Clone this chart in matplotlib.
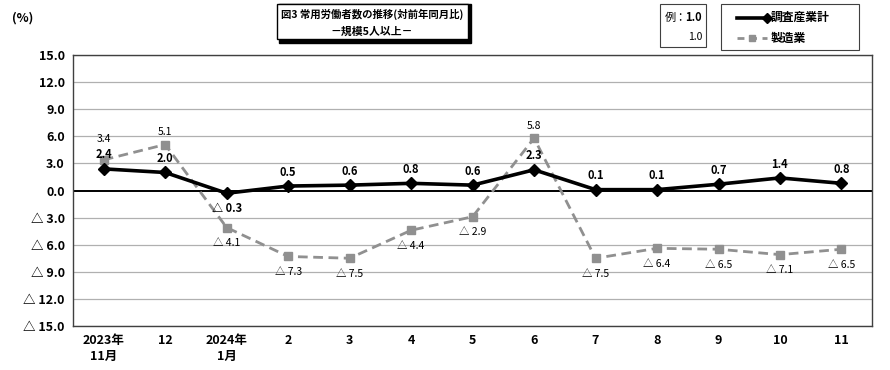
import matplotlib.pyplot as plt
from matplotlib.patches import Rectangle

plt.rcParams['font.family'] = ['Noto Sans CJK JP', 'DejaVu Sans']

months = ['2023年\n11月', '12', '2024年\n1月', '2', '3', '4', '5', '6', '7', '8', '9', '10', '11']
total = [2.4, 2.0, -0.3, 0.5, 0.6, 0.8, 0.6, 2.3, 0.1, 0.1, 0.7, 1.4, 0.8]
manuf = [3.4, 5.1, -4.1, -7.3, -7.5, -4.4, -2.9, 5.8, -7.5, -6.4, -6.5, -7.1, -6.5]
yticks = [15, 12, 9, 6, 3, 0, -3, -6, -9, -12, -15]


def fmt(v):
    if v < 0:
        return '△ %.1f' % abs(v)
    return '%.1f' % v


fig = plt.figure(figsize=(8.9, 3.7), dpi=100)
ax = fig.add_axes([0.082, 0.119, 0.898, 0.732])

x = list(range(len(months)))
for t in yticks:
    if t != 0:
        ax.axhline(t, color='#b0b0b0', lw=0.9, zorder=0)
ax.axhline(0, color='black', lw=1.4, zorder=1)

ax.plot(x, manuf, color='#909090', lw=2.0, ls=(0, (3.5, 2)), marker='s', ms=6,
        markerfacecolor='#909090', markeredgecolor='#909090', zorder=2)
ax.plot(x, total, color='black', lw=2.6, marker='D', ms=6, zorder=3)

# data labels
for i, v in enumerate(total):
    if v < 0:
        ax.annotate(fmt(v), (i, v), xytext=(0, -11), textcoords='offset points',
                    ha='center', va='center', fontsize=8, fontweight='bold')
    else:
        ax.annotate(fmt(v), (i, v), xytext=(0, 10), textcoords='offset points',
                    ha='center', va='center', fontsize=8, fontweight='bold')
for i, v in enumerate(manuf):
    if v < 0:
        ax.annotate(fmt(v), (i, v), xytext=(0, -11), textcoords='offset points',
                    ha='center', va='center', fontsize=7.5)
    else:
        dy = 9
        if i == 0:
            dy = 15
        ax.annotate(fmt(v), (i, v), xytext=(0, dy), textcoords='offset points',
                    ha='center', va='center', fontsize=7.5)

ax.set_xlim(-0.5, len(months) - 0.5)
ax.set_ylim(-15, 15)
ax.set_yticks(yticks)
ax.set_yticklabels([fmt(t) for t in yticks], fontsize=9, fontweight='bold')
ax.set_xticks(x)
ax.set_xticklabels(months, fontsize=9, fontweight='bold', va='top', linespacing=1.3)
ax.tick_params(length=0, pad=6)
for s in ax.spines.values():
    s.set_color('#404040')
    s.set_linewidth(1.0)

fig.text(0.013, 0.95, '(%)', fontsize=9, fontweight='bold', ha='left', va='center')

# title box with shadow
fig.patches.append(Rectangle((0.314, 0.885), 0.215, 0.103, transform=fig.transFigure,
                             facecolor='black', edgecolor='black', zorder=1))
fig.patches.append(Rectangle((0.311, 0.895), 0.215, 0.095, transform=fig.transFigure,
                             facecolor='white', edgecolor='black', lw=1.0, zorder=2))
fig.text(0.418, 0.960, '図3 常用労働者数の推移(対前年同月比)', fontsize=7.5, fontweight='bold',
         ha='center', va='center', zorder=3)
fig.text(0.418, 0.915, '－規模5人以上－', fontsize=7.8, fontweight='bold',
         ha='center', va='center', zorder=3)

# sample box
fig.patches.append(Rectangle((0.742, 0.872), 0.051, 0.116, transform=fig.transFigure,
                             facecolor='white', edgecolor='#404040', lw=0.8))
fig.text(0.747, 0.952, '例：', fontsize=8, ha='left', va='center')
fig.text(0.789, 0.952, '1.0', fontsize=8, fontweight='bold', ha='right', va='center')
fig.text(0.789, 0.900, '1.0', fontsize=7.5, ha='right', va='center')

# legend box
fig.patches.append(Rectangle((0.810, 0.866), 0.155, 0.122, transform=fig.transFigure,
                             facecolor='white', edgecolor='#404040', lw=0.8))
fig.lines.append(plt.Line2D([0.828, 0.862], [0.952, 0.952], transform=fig.transFigure,
                            color='black', lw=2.6, marker='D', ms=5, markevery=[1],
                            ))
fig.lines.append(plt.Line2D([0.828, 0.845, 0.862], [0.897, 0.897, 0.897], transform=fig.transFigure,
                            color='#909090', lw=2.0, ls=(0, (2.5, 2)), marker='s', ms=5,
                            markevery=[1]))
fig.text(0.866, 0.952, '調査産業計', fontsize=8.5, fontweight='bold', ha='left', va='center')
fig.text(0.866, 0.897, '製造業', fontsize=8.5, fontweight='bold', ha='left', va='center')

fig.savefig('out.png', dpi=100)
